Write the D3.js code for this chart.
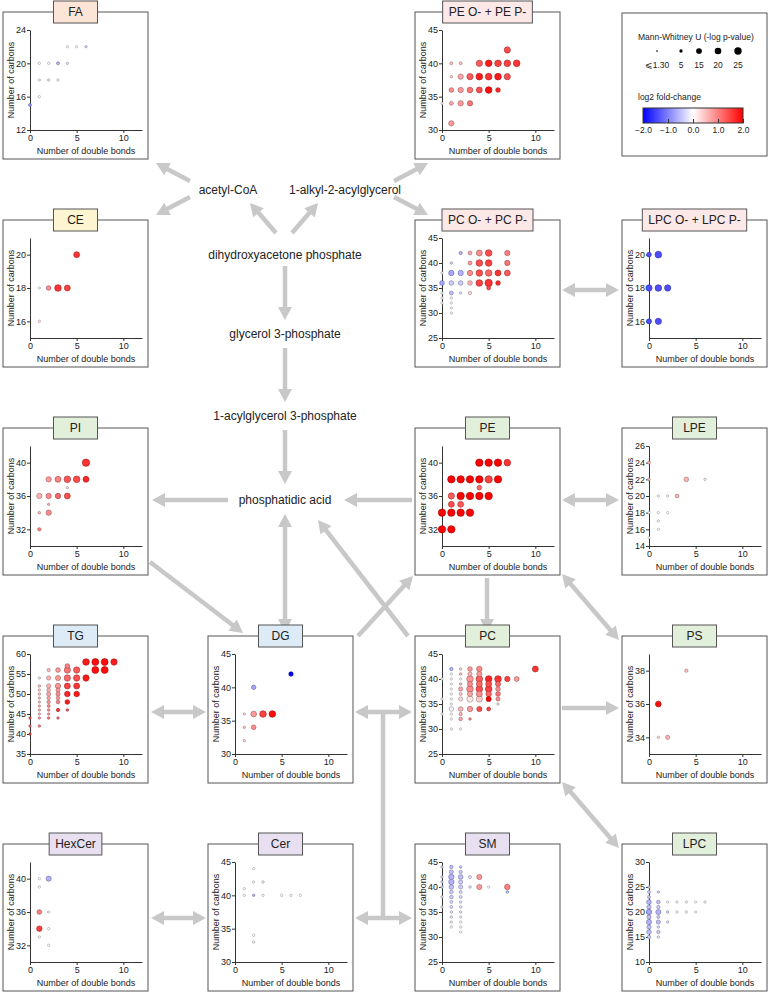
<!DOCTYPE html>
<html><head><meta charset="utf-8">
<script src="https://cdn.jsdelivr.net/npm/d3@7"></script>
<style>body{margin:0;background:#fff;} svg{display:block;font-family:"Liberation Sans",Arial,sans-serif;}</style>
</head><body><svg id="c" width="768" height="992"></svg>
<script>
// each point: [double bonds, carbons, log2 fold-change, -log p]
const dataFA = [[4,22,0,1.3],[5,22,0,1.3],[6,22,-0.3,2.5],[1,20,0,1.3],[2,20,0,1.3],[3,20,-0.6,4],[4,20,-0.2,2.5],[1,18,0,1.3],[2,18,-0.2,2.5],[3,18,0,1.3],[1,16,0,1.3],[0,15,-0.8,4]];
const dataPEO = [[7,42,1.4,18],[1,40,0.5,4],[2,40,0.5,4],[4,40,1.3,18],[5,40,1.8,20],[6,40,1.5,20],[7,40,1.5,20],[8,40,1.6,20],[1,38,0.4,3],[2,38,0.7,13],[3,38,1.3,18],[4,38,1.8,20],[5,38,1.6,20],[6,38,1.8,20],[7,38,1.4,18],[1,36,0.9,10],[2,36,0.8,13],[3,36,1.1,15],[4,36,1.4,16],[5,36,1.9,20],[6,36,1.7,10],[1,34,0.7,7],[2,34,0.8,13],[3,34,1.1,13],[1,31,0.8,13],[0,34,0,1.3]];
const dataCE = [[5,20,1.6,16],[1,18,0,1.3],[2,18,0.9,10],[3,18,1.6,20],[4,18,1.5,16],[1,16,0.2,1.8]];
const dataPCO = [[2,42,-0.6,5],[3,42,0.7,7],[4,42,0.9,16],[5,42,1.4,20],[7,42,1.0,13],[1,40,-0.3,3],[3,40,0.8,7],[4,40,1.4,20],[5,40,1.5,20],[7,40,1.1,13],[0,38,0,1.3],[1,38,-0.7,13],[2,38,-0.6,13],[3,38,0.9,13],[4,38,1.4,20],[5,38,1.2,20],[6,38,1.6,16],[7,38,1.3,16],[0,36,-0.7,10],[1,36,-0.4,10],[2,36,-0.4,10],[3,36,0.6,10],[4,36,1.5,20],[5,36,1.6,25],[6,36,1.7,10],[5,35,1.4,7],[0,34,0,1.3],[1,34,-0.5,7],[2,34,-0.2,1.8],[3,34,0.3,5],[0,33,0,1.3],[1,33,0,1.3],[0,32,0,1.3],[1,32,0,1.3],[1,31,0,1.3],[1,30,0,1.3]];
const dataLPCO = [[0,20,-1.4,10],[1,20,-1.4,20],[0,18,-1.4,18],[1,18,-1.4,20],[2,18,-1.4,18],[0,16,-1.4,12],[1,16,-1.4,18]];
const dataPI = [[6,40,1.6,25],[2,38,0.8,13],[3,38,1.0,16],[4,38,1.3,20],[5,38,1.4,20],[6,38,1.7,16],[4,37,0.3,1.3],[1,36,0.6,13],[2,36,0.9,13],[3,36,1.2,13],[4,36,1.4,16],[2,35,0.6,2],[1,34,0.6,3],[2,34,0.9,13],[1,32,1.0,5]];
const dataPE = [[4,40,2,25],[5,40,2,25],[6,40,2,25],[7,40,1.6,20],[1,38,2,25],[2,38,2,25],[3,38,2,25],[4,38,2,25],[5,38,1.5,25],[6,38,2,25],[4,37,1.2,10],[1,36,1.3,18],[2,36,2,25],[3,36,2,25],[4,36,2,25],[5,36,2,25],[1,35,1.4,16],[2,35,1.3,16],[0,34,2,25],[1,34,2,25],[2,34,2,25],[3,34,2,25],[0,32,2,25],[1,32,2,25]];
const dataLPE = [[0,24,0.6,4],[0,22,0.5,3],[4,22,0.6,10],[6,22,0.1,1.8],[1,20,0,1.3],[2,20,0,1.3],[3,20,0.6,6],[0,18,0,1.3],[1,18,0,1.3],[2,18,0,1.5],[1,17,0,1.3],[1,16,0,1.3],[0,15,0,1.3]];
const dataTG = [[6,58,1.8,20],[7,58,1.9,22],[8,58,1.9,22],[9,58,1.8,18],[4,57,1.0,10],[3,56,0.8,10],[4,56,1.1,18],[5,56,1.3,18],[7,56,1.9,22],[8,56,1.9,22],[2,56,0.5,5],[1,54,0.2,1.5],[2,54,0.6,8],[3,54,0.8,12],[4,54,1.2,18],[5,54,1.4,18],[6,54,1.8,18],[1,52,0.5,3],[2,52,0.6,8],[3,52,0.8,13],[4,52,1.5,16],[5,52,1.6,16],[1,51,0.4,2],[2,51,0.6,6],[3,51,0.8,8],[1,50,0.5,3],[2,50,0.7,8],[3,50,0.9,8],[4,50,1.7,14],[5,50,1.8,14],[1,49,0.5,2],[2,49,0.7,5],[3,49,0.8,6],[1,48,0.5,2],[2,48,0.8,5],[3,48,1.0,6],[4,48,1.8,10],[1,47,0.6,2],[2,47,0.9,4],[1,46,0.6,2],[2,46,0.9,3],[3,46,1.6,5],[4,46,1.4,3],[1,45,0.6,2],[2,45,0.8,2],[0,44,1.4,2],[1,44,0.8,2],[2,44,1.0,3],[3,44,1.2,2],[1,42,1.0,3],[0,42,1.2,1.5],[0,40,1.5,2]];
const dataDG = [[6,42,-2,9],[2,40,-0.7,9],[1,36,0.3,1.3],[2,36,0.8,15],[3,36,1.5,20],[4,36,1.9,20],[1,34,0.5,1.8],[2,34,0.9,10],[1,32,0.4,1.3]];
const dataPC = [[1,42,-0.6,5],[2,42,0.3,3],[3,42,0.8,10],[4,42,0.9,14],[10,42,1.6,16],[1,41,0,1.3],[2,41,0.5,3],[3,41,0.6,8],[4,41,0.8,12],[0,40,0,1.3],[1,40,0,1.3],[2,40,0,1.3],[3,40,0.8,20],[4,40,1.3,20],[5,40,1.7,20],[6,40,1.6,20],[7,40,1.5,13],[8,40,0.8,11],[1,39,0,1.3],[2,39,0.5,3],[3,39,0.9,12],[4,39,1.2,16],[5,39,1.4,16],[6,39,1.2,12],[1,38,0,1.3],[2,38,0.7,8],[3,38,0.9,20],[4,38,1.4,20],[5,38,1.5,20],[6,38,0.9,10],[1,37,0,1.3],[2,37,0.4,4],[3,37,0.7,12],[4,37,0.9,16],[5,37,1.2,14],[6,37,1.1,10],[0,36,0,1.3],[1,36,0,1.3],[2,36,0.3,8],[3,36,0.2,18],[4,36,0.4,18],[5,36,2,12],[6,36,0.9,8],[6,35,0.2,1.3],[1,35,0,1.3],[1,34,-0.1,10],[2,34,0.6,10],[3,34,0.8,13],[4,34,1.4,12],[5,34,1.5,7],[1,33,0,1.3],[2,33,0.6,5],[1,32,0,1.3],[2,32,0.7,6],[3,32,0.9,3],[1,30,0,1.3],[2,30,0,1.3],[0,33,0,1.3]];
const dataPS = [[4,38,0.5,5],[1,36,1.9,15],[1,34,0.3,1.3],[2,34,0.6,8]];
const dataHexCer = [[1,40,0,1.3],[2,40,-0.6,12],[1,39,0,1.3],[1,36,1.0,10],[2,36,0,1.3],[1,34,1.5,14],[2,34,0,1.3],[1,33,0,1.3],[2,32,0,1.3]];
const dataCer = [[2,44,0,1.3],[2,42,0,1.3],[3,42,0.1,3],[1,41,0,1.3],[1,40,0,1.3],[2,40,-0.6,2],[3,40,0,1.3],[5,40,0,1.3],[6,40,0,1.3],[7,40,0,1.3],[2,34,0,1.3],[2,33,0,1.3]];
const dataSM = [[0,44,-0.3,2],[1,44,-0.5,5],[2,44,-0.4,3],[1,43,-0.5,8],[2,43,-0.4,5],[0,42,-0.3,2],[1,42,-0.6,13],[2,42,-0.5,10],[3,42,-0.2,4],[4,42,0.8,12],[0,41,-0.3,2],[1,41,-0.6,13],[2,41,-0.4,8],[0,40,-0.3,3],[1,40,-0.5,10],[2,40,-0.4,8],[3,40,-0.2,3],[4,40,0.8,12],[5,40,0,1.3],[7,40,1.0,14],[7,39,-0.5,3],[1,39,-0.4,6],[2,39,-0.3,4],[0,38,-0.2,2],[1,38,-0.4,6],[2,38,-0.3,4],[1,37,-0.3,4],[2,37,-0.2,3],[0,36,-0.2,2],[1,36,-0.3,4],[2,36,-0.2,3],[1,35,-0.2,3],[2,35,-0.2,2],[1,34,-0.2,3],[2,34,-0.1,2],[1,33,-0.1,2],[2,33,0,1.3],[1,32,0,1.3],[2,32,0,1.3],[2,31,0,1.3]];
const dataLPC = [[0,25,-0.3,2],[0,24,-0.4,4],[1,24,-0.3,2],[0,23,-0.4,4],[0,22,-0.6,10],[1,22,-0.5,6],[2,22,0,1.3],[3,22,0,1.3],[4,22,0,1.3],[5,22,0,1.3],[6,22,0,1.3],[0,21,-0.5,8],[1,21,-0.4,5],[0,20,-0.7,13],[1,20,-0.6,12],[2,20,-0.3,3],[3,20,0,1.3],[4,20,0,1.3],[5,20,0,1.3],[0,19,-0.5,8],[1,19,-0.4,4],[0,18,-0.6,12],[1,18,-0.5,8],[2,18,-0.2,2],[0,17,-0.5,8],[1,17,-0.3,3],[0,16,-0.5,10],[1,16,-0.4,5],[0,15,-0.4,5],[1,15,-0.2,2]];

const xTicks = [0,5,10];
const sizeLegendValues = [1.3,5,15,20,25];
const sizeLegendLabels = ["⩽1.30","5","15","20","25"];
const colorLegendTicks = [-2,-1,0,1,2];

const panels = [
 {name:"FA", col:0,row:0, tab:"#fce4d6", y:[12,24], yt:[12,16,20,24], data:dataFA},
 {name:"PE O- + PE P-", col:2,row:0, tab:"#fde8e8", y:[30,45], yt:[30,35,40,45], data:dataPEO},
 {name:"CE", col:0,row:1, tab:"#fdf4d2", y:[15,21], yt:[16,18,20], data:dataCE},
 {name:"PC O- + PC P-", col:2,row:1, tab:"#fde8e8", y:[25,45], yt:[25,30,35,40,45], data:dataPCO},
 {name:"LPC O- + LPC P-", col:3,row:1, tab:"#fde8e8", y:[15,21], yt:[16,18,20], data:dataLPCO},
 {name:"PI", col:0,row:2, tab:"#e2efda", y:[30,42], yt:[32,36,40], data:dataPI},
 {name:"PE", col:2,row:2, tab:"#e2efda", y:[30,42], yt:[32,36,40], data:dataPE},
 {name:"LPE", col:3,row:2, tab:"#e2efda", y:[14,26], yt:[14,16,18,20,22,24,26], data:dataLPE},
 {name:"TG", col:0,row:3, tab:"#ddebf7", y:[35,60], yt:[35,40,45,50,55,60], data:dataTG},
 {name:"DG", col:1,row:3, tab:"#ddebf7", y:[30,45], yt:[30,35,40,45], data:dataDG},
 {name:"PC", col:2,row:3, tab:"#e2efda", y:[25,45], yt:[25,30,35,40,45], data:dataPC},
 {name:"PS", col:3,row:3, tab:"#e2efda", y:[33,39], yt:[34,36,38], data:dataPS},
 {name:"HexCer", col:0,row:4, tab:"#e8e0f0", y:[30,42], yt:[32,36,40], data:dataHexCer},
 {name:"Cer", col:1,row:4, tab:"#e8e0f0", y:[30,45], yt:[30,35,40,45], data:dataCer},
 {name:"SM", col:2,row:4, tab:"#e8e0f0", y:[25,45], yt:[25,30,35,40,45], data:dataSM},
 {name:"LPC", col:3,row:4, tab:"#e2efda", y:[10,30], yt:[10,15,20,25,30], data:dataLPC}
];

const colX = [3,208,415,622], rowY = [12,220,428,636,844];
const BW = 145, BH = 147;
const svg = d3.select("#c");
const color = d3.scaleLinear().domain([-2,0,2]).range(["#0000ff","#ffffff","#ff0000"]).clamp(true);
const rad = d3.scaleSqrt().domain([0,25]).range([0,3.7]);
const AC = "#c8c8c8";

const arrows = [
 [190,181,156,163,1],[190,197,156,215,1],
 [394,181,428,163,1],[394,197,428,215,1],
 [276,233,250,203,1],[292,233,318,203,1],
 [285,266,285,320,1],[285,348,285,402,1],[285,430,285,484,1],
 [228,500,152,500,1],[412,500,344,500,1],
 [285,514,285,632,2],
 [150,562,243,633,1],
 [408,636,318,520,1],
 [358,636,413,576,1],
 [487,578,487,632,1],
 [562,500,619,500,2],
 [562,574,619,640,2],
 [562,708,619,708,1],
 [562,782,619,848,2],
 [151,712,206,712,2],
 [355,712,412,712,2],
 [151,918,206,918,2],
 [355,918,412,918,2],
 [562,290,619,290,2]
];
const ag = svg.append("g");
ag.append("line").attr("x1",383).attr("y1",712).attr("x2",383).attr("y2",918).attr("stroke",AC).attr("stroke-width",4.5);
function head(x,y,ang){
 const L=13, Wd=7;
 const p=[[x,y],[x-L*Math.cos(ang)+Wd*Math.sin(ang), y-L*Math.sin(ang)-Wd*Math.cos(ang)],[x-L*Math.cos(ang)-Wd*Math.sin(ang), y-L*Math.sin(ang)+Wd*Math.cos(ang)]];
 ag.append("path").attr("d","M"+p.map(d=>d.join(",")).join("L")+"Z").attr("fill",AC);
}
arrows.forEach(([x1,y1,x2,y2,n])=>{
 const ang=Math.atan2(y2-y1,x2-x1), L=11;
 let sx=x1, sy=y1;
 if(n===2){ sx=x1+L*Math.cos(ang); sy=y1+L*Math.sin(ang); head(x1,y1,ang+Math.PI); }
 ag.append("line").attr("x1",sx).attr("y1",sy).attr("x2",x2-L*Math.cos(ang)).attr("y2",y2-L*Math.sin(ang)).attr("stroke",AC).attr("stroke-width",4.5);
 head(x2,y2,ang);
});

const labels = [["acetyl-CoA",228,190],["1-alkyl-2-acylglycerol",345,190],["dihydroxyacetone phosphate",285,255],["glycerol 3-phosphate",285,334],["1-acylglycerol 3-phosphate",285,416],["phosphatidic acid",285,500]];
svg.append("g").selectAll("text").data(labels).join("text")
 .attr("x",d=>d[1]).attr("y",d=>d[2]).attr("dy","0.35em").attr("text-anchor","middle")
 .attr("font-size",12).attr("fill","#222").text(d=>d[0]);

panels.forEach(p=>{
 const L=colX[p.col], T=rowY[p.row];
 const g=svg.append("g");
 g.append("rect").attr("x",L).attr("y",T).attr("width",BW).attr("height",BH).attr("fill","#fff").attr("stroke","#555").attr("stroke-width",1);
 const x=d3.scaleLinear().domain([0,12]).range([L+27,L+139]);
 const y=d3.scaleLinear().domain(p.y).range([T+118,T+18]);
 const xa=g.append("g").attr("transform",`translate(0,${T+118})`).call(d3.axisBottom(x).tickValues(xTicks).tickFormat(d3.format("d")).tickSize(3).tickPadding(2).tickSizeOuter(0));
 const ya=g.append("g").attr("transform",`translate(${L+27},0)`).call(d3.axisLeft(y).tickValues(p.yt).tickFormat(d3.format("d")).tickSize(3).tickPadding(1).tickSizeOuter(0));
 [xa,ya].forEach(a=>{a.selectAll("text").attr("font-size",9).attr("fill","#222").attr("font-family","Liberation Sans, Arial, sans-serif");a.selectAll("line,path").attr("stroke","#333");});
 g.append("text").attr("x",L+83).attr("y",T+142).attr("text-anchor","middle").attr("font-size",9).attr("fill","#222").text("Number of double bonds");
 g.append("text").attr("transform",`translate(${L+11},${T+68}) rotate(-90)`).attr("text-anchor","middle").attr("font-size",9).attr("fill","#222").text("Number of carbons");
 const pts=p.data.slice().sort((a,b)=>b[3]-a[3]);
 g.append("g").selectAll("circle").data(pts).join("circle")
  .attr("cx",d=>x(d[0])).attr("cy",d=>y(d[1])).attr("r",d=>Math.max(rad(d[3]),1.2))
  .attr("fill",d=>color(d[2])).attr("stroke",d=>d3.color(color(d[2])).darker(1.4)).attr("stroke-width",0.6);
 const tr=g.append("rect");
 const tt=g.append("text").attr("x",L+BW/2).attr("y",T).attr("dy","0.36em").attr("text-anchor","middle").attr("font-size",12).attr("fill","#222").text(p.name);
 const tw=Math.max(44, tt.node().getComputedTextLength()+12);
 tr.attr("x",L+BW/2-tw/2).attr("y",T-11).attr("width",tw).attr("height",22).attr("fill",p.tab).attr("stroke","#555").attr("stroke-width",1);
});

const lg=svg.append("g");
lg.append("rect").attr("x",622).attr("y",13).attr("width",145).attr("height",143).attr("fill","#fff").attr("stroke","#555");
lg.append("text").attr("x",638).attr("y",40).attr("font-size",8.5).attr("fill","#222").text("Mann-Whitney U (-log p-value)");
const sxPos=[657,681,699,718,738];
lg.selectAll("circle.s").data(sizeLegendValues).join("circle").attr("cx",(d,i)=>sxPos[i]).attr("cy",51).attr("r",d=>rad(d)).attr("fill","#000");
lg.selectAll("text.s").data(sizeLegendLabels).join("text").attr("x",(d,i)=>sxPos[i]).attr("y",68).attr("text-anchor","middle").attr("font-size",8.5).attr("fill","#222").text(d=>d);
lg.append("text").attr("x",638).attr("y",100).attr("font-size",8.5).attr("fill","#222").text("log2 fold-change");
const defs=svg.append("defs");
const gr=defs.append("linearGradient").attr("id","cg");
gr.selectAll("stop").data([-2,-1,0,1,2]).join("stop").attr("offset",d=>((d+2)/4*100)+"%").attr("stop-color",d=>color(d));
const cx=d3.scaleLinear().domain([-2,2]).range([643,743]);
lg.append("rect").attr("x",643).attr("y",108).attr("width",100).attr("height",15).attr("fill","url(#cg)").attr("stroke","#333");
const ca=lg.append("g").attr("transform","translate(0,123)").call(d3.axisBottom(cx).tickValues(colorLegendTicks).tickSize(-4).tickPadding(4).tickSizeOuter(0).tickFormat(d3.format(".1f")));
ca.select(".domain").remove();
ca.selectAll("text").attr("font-size",8.5).attr("fill","#222").attr("font-family","Liberation Sans, Arial, sans-serif");
ca.selectAll("line").attr("stroke","#333");
</script></body></html>
